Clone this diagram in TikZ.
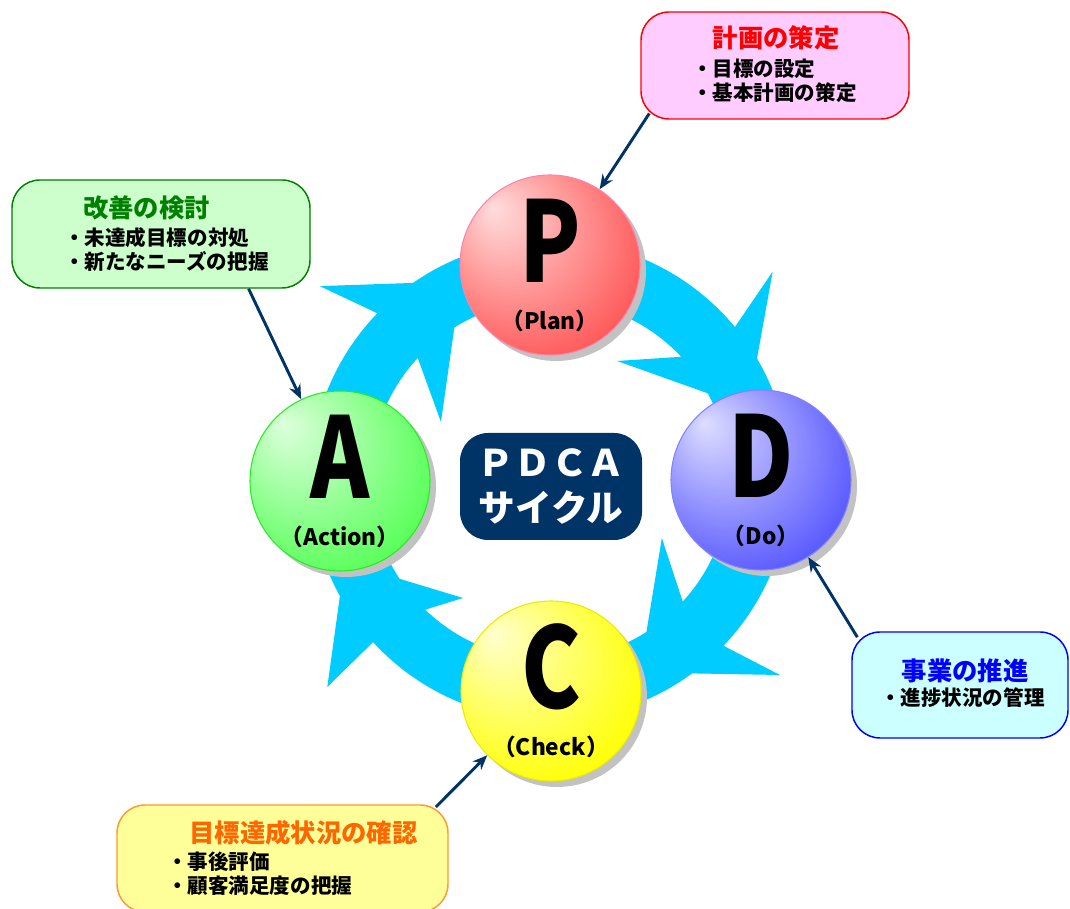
\documentclass[tikz,border=0pt]{standalone}
\usepackage{fontspec}
\setmainfont{Noto Sans CJK JP}
\newfontfamily\letterfont{Noto Sans CJK JP}[FakeStretch=0.8]
\usepackage{xcolor}
\usepackage{tikz}
\usetikzlibrary{arrows.meta,shadows}
\definecolor{Cring}{RGB}{0,204,255}
\definecolor{Cnavy}{RGB}{0,51,102}
\definecolor{Cp}{RGB}{255,85,85}
\definecolor{Cpl}{RGB}{255,130,170}
\definecolor{Cd}{RGB}{85,85,255}
\definecolor{Cdl}{RGB}{130,130,255}
\definecolor{Cc}{RGB}{255,255,0}
\definecolor{Ccl}{RGB}{235,235,0}
\definecolor{Ca}{RGB}{85,255,85}
\definecolor{Cal}{RGB}{40,235,40}
\definecolor{Cplanbg}{RGB}{255,204,255}
\definecolor{Cactbg}{RGB}{204,255,204}
\definecolor{Cactfg}{RGB}{0,128,0}
\definecolor{Cdobg}{RGB}{204,255,255}
\definecolor{Cchkbg}{RGB}{255,255,153}
\definecolor{Cchkln}{RGB}{255,153,51}
\definecolor{Cchkfg}{RGB}{255,102,0}
\colorlet{cball}{Cp}
\pgfdeclareradialshading[cball]{glossy}{\pgfqpoint{-16bp}{16bp}}{%
  color(0bp)=(cball!20!white); color(34bp)=(cball); color(50bp)=(cball)}

\begin{document}
\begin{tikzpicture}[x=0.75pt,y=0.75pt,
    stage/.style={circle,minimum size=135pt,inner sep=0pt,line width=0.8pt,shading=glossy,
      drop shadow={shadow xshift=4.5pt,shadow yshift=-4.5pt,fill=black!24,opacity=1}},
    stagecol/.code={\colorlet{cball}{#1}},
    bigletter/.style={inner sep=0pt,font=\letterfont\bfseries\fontsize{84}{84}\selectfont},
    stagelabel/.style={inner sep=0pt,font=\bfseries\fontsize{17}{17}\selectfont},
    notebox/.style={rounded corners=21pt,line width=1.1pt,inner sep=0pt},
    titletext/.style={inner sep=0pt,font=\bfseries\fontsize{19}{19}\selectfont},
    itemtext/.style={inner sep=0pt,anchor=west,align=left,font=\bfseries\fontsize{15.4}{18}\selectfont},
    pointer/.style={Cnavy,line width=2.2pt,-{Stealth[length=11pt,width=9pt]}}]
  \fill[white] (0,0) rectangle (1070,909);
  \useasboundingbox (0,0) rectangle (1070,909);

  % ring of four arrows
  \coordinate (hub) at (550,429);
  \begin{scope}[shift={(hub)}]
    \foreach \sA/\nO/\bO/\rO/\fO/\tA/\fI/\bI/\rI/\nI in {
        80/39.6/43.1/305/30.4/8/28.8/60.6/136.6/43.2,
        -10/-43.7/-40.3/301.5/-53.7/-82/-57.6/-27.4/126/-42.5,
        260/222.5/222.9/304/208.9/188/213.3/233.6/146.6/226.1,
        170/136/139.9/301/124.8/98/122.1/152/123.5/137.3}{
      \fill[Cring] (\sA:240) arc[start angle=\sA,end angle=\nO,radius=240]
        -- (\bO:\rO) -- (\fO:240) arc[start angle=\fO,end angle=\tA+10,radius=240]
        -- (\tA:210) -- (\tA+8:180) arc[start angle=\tA+8,end angle=\fI,radius=180]
        -- (\bI:\rI) -- (\nI:180) arc[start angle=\nI,end angle=\sA,radius=180] -- cycle;
    }
  \end{scope}

  % the four stages
  \node[stage,stagecol=Cp,draw=Cpl] (P) at (550,644) {};
  \node[stage,stagecol=Cd,draw=Cdl] (D) at (761,429) {};
  \node[stage,stagecol=Cc,draw=Ccl] (C) at (551,218) {};
  \node[stage,stagecol=Ca,draw=Cal] (A) at (340,428) {};
  \foreach \stage/\word in {P/（Plan）,D/（Do）,C/（Check）,A/（Action）}{
    \node[bigletter] (\stage-letter) at ([yshift=18pt]\stage.center) {\stage};
    \node[stagelabel] (\stage-word) at ([yshift=-42pt]\stage.center) {\word};
  }

  \node[notebox,fill=Cnavy,text=white,minimum width=136.5pt,minimum height=80.25pt,align=center,
    font=\bfseries\fontsize{27.5}{33.75}\selectfont] (pdca) at (551,422.5) {ＰＤＣＡ\\サイクル};

  % notes
  \node[notebox,draw=red,fill=Cplanbg,minimum width=201pt,minimum height=80.25pt] (planbox) at (775,843.5) {};
  \node[titletext,text=red] (plan-title) at (776,871) {計画の策定};
  \node[itemtext] (plan-items) at (692,828) {・目標の設定\\・基本計画の策定};

  \node[notebox,draw=Cactfg,fill=Cactbg,minimum width=223.5pt,minimum height=81pt] (actbox) at (161,675) {};
  \node[titletext,text=Cactfg] (act-title) at (146.5,701.5) {改善の検討};
  \node[itemtext] (act-items) at (64,659.5) {・未達成目標の対処\\・新たなニーズの把握};

  \node[notebox,draw=blue,fill=Cdobg,minimum width=162pt,minimum height=79.5pt] (dobox) at (960,224) {};
  \node[titletext,text=blue] (do-title) at (965,238) {事業の推進};
  \node[itemtext] (do-items) at (880,211) {・進捗状況の管理};

  \node[notebox,draw=Cchkln,fill=Cchkbg,minimum width=248.25pt,minimum height=80.25pt] (chkbox) at (282.5,50.5) {};
  \node[titletext,text=Cchkfg] (chk-title) at (303.5,76.5) {目標達成状況の確認};
  \node[itemtext] (chk-items) at (167,35) {・事後評価\\・顧客満足度の把握};

  % pointers to the stages
  \draw[pointer,shorten <=15pt] ([xshift=15pt,yshift=17.25pt]planbox.south west) -- (P);
  \draw[pointer] (actbox.328) -- (A);
  \draw[pointer,shorten <=15pt] ([xshift=12.4pt,yshift=-17.25pt]dobox.north west) -- (D);
  \draw[pointer,shorten <=15pt] ([xshift=-20.25pt,yshift=-12.75pt]chkbox.north east) -- (C);
\end{tikzpicture}
\end{document}
